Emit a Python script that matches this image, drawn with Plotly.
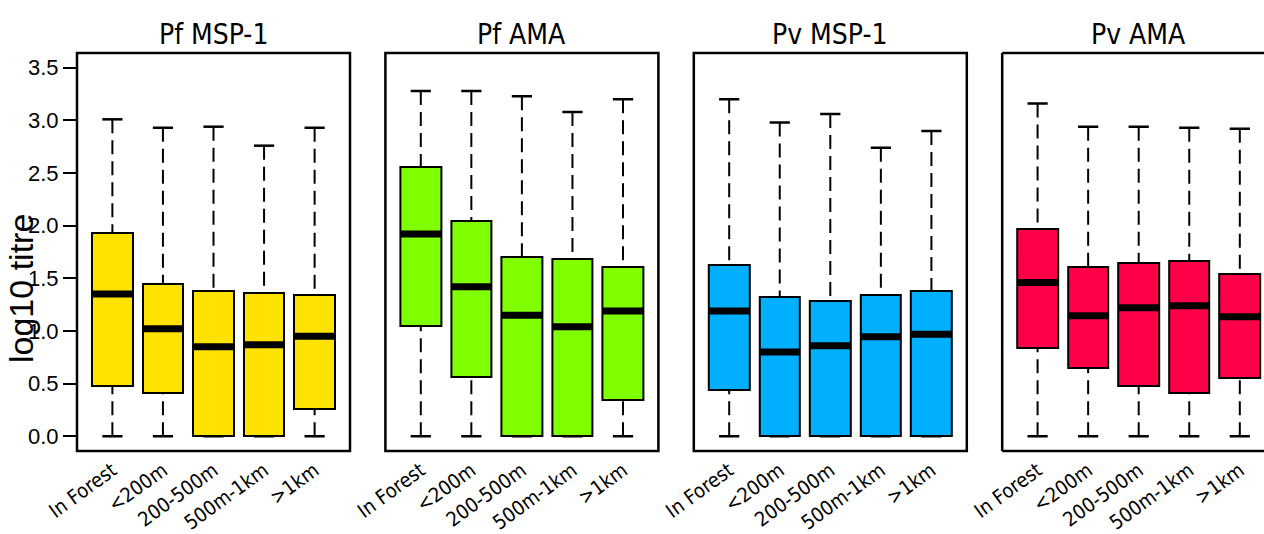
import plotly.graph_objects as go

# ---------------- data ----------------
categories = ["In Forest", "<200m", "200-500m", "500m-1km", ">1km"]
panel_titles = ["Pf MSP-1", "Pf AMA", "Pv MSP-1", "Pv AMA"]
panel_colors = ["#FFE200", "#7FFF00", "#00B0FF", "#FF0048"]
y_tick_vals = [0.0, 0.5, 1.0, 1.5, 2.0, 2.5, 3.0, 3.5]
y_tick_text = ["0.0", "0.5", "1.0", "1.5", "2.0", "2.5", "3.0", "3.5"]

pf_msp1_low = [0.0, 0.0, 0.0, 0.0, 0.0]
pf_msp1_q1 = [0.48, 0.41, 0.0, 0.0, 0.26]
pf_msp1_med = [1.35, 1.02, 0.85, 0.87, 0.95]
pf_msp1_q3 = [1.93, 1.45, 1.38, 1.36, 1.34]
pf_msp1_high = [3.01, 2.93, 2.94, 2.76, 2.93]

pf_ama_low = [0.0, 0.0, 0.0, 0.0, 0.0]
pf_ama_q1 = [1.05, 0.56, 0.0, 0.0, 0.34]
pf_ama_med = [1.92, 1.42, 1.15, 1.04, 1.19]
pf_ama_q3 = [2.56, 2.04, 1.70, 1.68, 1.61]
pf_ama_high = [3.28, 3.28, 3.23, 3.08, 3.20]

pv_msp1_low = [0.0, 0.0, 0.0, 0.0, 0.0]
pv_msp1_q1 = [0.44, 0.0, 0.0, 0.0, 0.0]
pv_msp1_med = [1.19, 0.80, 0.86, 0.945, 0.97]
pv_msp1_q3 = [1.63, 1.325, 1.28, 1.34, 1.38]
pv_msp1_high = [3.20, 2.98, 3.06, 2.74, 2.90]

pv_ama_low = [0.0, 0.0, 0.0, 0.0, 0.0]
pv_ama_q1 = [0.84, 0.645, 0.475, 0.415, 0.555]
pv_ama_med = [1.46, 1.145, 1.22, 1.24, 1.135]
pv_ama_q3 = [1.97, 1.61, 1.65, 1.665, 1.54]
pv_ama_high = [3.16, 2.94, 2.94, 2.93, 2.92]

panels = [
    (pf_msp1_low, pf_msp1_q1, pf_msp1_med, pf_msp1_q3, pf_msp1_high),
    (pf_ama_low, pf_ama_q1, pf_ama_med, pf_ama_q3, pf_ama_high),
    (pv_msp1_low, pv_msp1_q1, pv_msp1_med, pv_msp1_q3, pv_msp1_high),
    (pv_ama_low, pv_ama_q1, pv_ama_med, pv_ama_q3, pv_ama_high),
]

# ---------------- layout constants ----------------
W, H = 1264, 534
MT, MB = 53, 83
PANEL_LEFT0 = 77
PANEL_STEP = 308.4
PANEL_W = 273
COND = "DejaVu Sans Condensed, Liberation Sans, Arial, sans-serif"
REGULAR = "Liberation Sans, Arial, Helvetica, sans-serif"
BOX_W = 0.8
CAP_HALF = 0.2
XR0, XR1 = 0.3, 5.7
YR = [-0.14, 3.64]

positions = list(range(1, len(categories) + 1))

fig = go.Figure()
layout_axes = {}
shapes = []
annotations = []

for i, (low, q1, med, q3, high) in enumerate(panels):
    n = "" if i == 0 else str(i + 1)
    xa, ya = "x" + n, "y" + n
    color = panel_colors[i]

    # box bodies
    fig.add_trace(go.Bar(
        x=positions, y=[b - a for a, b in zip(q1, q3)], base=q1, width=BOX_W,
        marker=dict(color=color, line=dict(color="black", width=2)),
        xaxis=xa, yaxis=ya, showlegend=False, hoverinfo="skip"))

    # dashed whiskers (drawn from whisker end toward the box)
    wx, wy = [], []
    for p, lo, a, b, hi in zip(positions, low, q1, q3, high):
        wx += [p, p, None]
        wy += [hi, b, None]
        if a > lo:
            wx += [p, p, None]
            wy += [lo, a, None]
    fig.add_trace(go.Scatter(
        x=wx, y=wy, mode="lines", line=dict(color="black", width=2, dash="14px,7px"),
        xaxis=xa, yaxis=ya, showlegend=False, hoverinfo="skip"))

    # staples
    cx, cy = [], []
    for p, lo, hi in zip(positions, low, high):
        cx += [p - CAP_HALF, p + CAP_HALF, None, p - CAP_HALF, p + CAP_HALF, None]
        cy += [hi, hi, None, lo, lo, None]
    fig.add_trace(go.Scatter(
        x=cx, y=cy, mode="lines", line=dict(color="black", width=2.5),
        xaxis=xa, yaxis=ya, showlegend=False, hoverinfo="skip"))

    # medians
    mx, my = [], []
    for p, m in zip(positions, med):
        mx += [p - BOX_W / 2, p + BOX_W / 2, None]
        my += [m, m, None]
    fig.add_trace(go.Scatter(
        x=mx, y=my, mode="lines", line=dict(color="black", width=7),
        xaxis=xa, yaxis=ya, showlegend=False, hoverinfo="skip"))

    left = PANEL_LEFT0 + i * PANEL_STEP
    right = left + PANEL_W
    d0 = left / W
    d1 = min(right / W, 1.0)
    xr1 = XR0 + (XR1 - XR0) * (min(right, W) - left) / PANEL_W

    layout_axes["xaxis" + n] = dict(
        domain=[d0, d1], range=[XR0, xr1], anchor=ya, automargin=False,
        tickmode="array", tickvals=positions, ticktext=categories,
        tickangle=-36, ticks="", ticklabelstandoff=3,
        showgrid=False, zeroline=False, showline=False,
        tickfont=dict(family=COND, size=20, color="black"), fixedrange=True)
    yax = dict(
        domain=[0, 1], range=YR, anchor=xa, showgrid=False, zeroline=False,
        showline=False, fixedrange=True, automargin=False)
    if i == 0:
        yax.update(tickmode="array", tickvals=y_tick_vals, ticktext=y_tick_text,
                   ticks="outside", ticklen=13, tickwidth=2, tickcolor="black",
                   tickfont=dict(family=REGULAR, size=22, color="black"))
    else:
        yax.update(showticklabels=False, ticks="")
    layout_axes["yaxis" + n] = yax

    # frames
    xd = xa + " domain"
    yd = ya + " domain"
    if right <= W:
        shapes.append(dict(type="rect", xref=xd, yref=yd, x0=0, x1=1, y0=0, y1=1,
                           line=dict(color="black", width=2.5), layer="above"))
    else:
        for (x0, y0, x1, y1) in [(0, 0, 0, 1), (0, 1, 1, 1), (0, 0, 1, 0)]:
            shapes.append(dict(type="line", xref=xd, yref=yd, x0=x0, x1=x1, y0=y0, y1=y1,
                               line=dict(color="black", width=2.5), layer="above"))

    # panel title
    annotations.append(dict(
        text=panel_titles[i], xref=xd, x=(0.5 if right <= W else 0.5 * PANEL_W / (W - left)),
        yref="paper", y=1, yanchor="bottom", xanchor="center", yshift=0,
        showarrow=False, font=dict(family=COND, size=28, color="black")))

annotations.append(dict(
    text="log10 titre", xref="paper", x=21 / W, xanchor="center",
    yref="paper", y=(H - MB - 289) / (H - MT - MB), yanchor="middle", textangle=-90,
    showarrow=False, font=dict(family=REGULAR, size=34, color="black")))

fig.update_layout(
    width=W, height=H,
    margin=dict(l=0, r=0, t=MT, b=MB, pad=0, autoexpand=False),
    paper_bgcolor="white", plot_bgcolor="white",
    barmode="overlay", bargap=0,
    shapes=shapes, annotations=annotations,
    showlegend=False,
    **layout_axes)

fig.write_html("out.html", config={"displayModeBar": False})
